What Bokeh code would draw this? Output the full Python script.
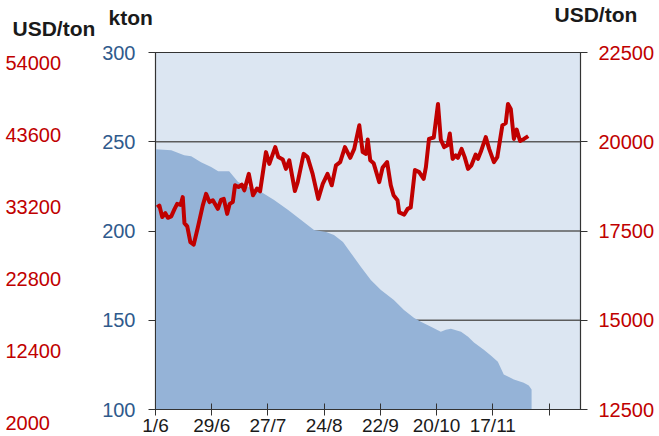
from bokeh.plotting import figure
from bokeh.models import Range1d, LinearAxis, FixedTicker, Label
from bokeh.embed import file_html
from bokeh.resources import INLINE

# ---------------- data ----------------
# x = trading-day index from 1/6
x_tick_pos = [0, 20, 40, 60, 80, 100, 120, 140]
x_tick_labels = ["1/6", "29/6", "27/7", "24/8", "22/9", "20/10", "17/11", ""]
x_end = 151.2                      # day index at the right border

kton_ticks = [100, 150, 200, 250, 300]
price_ticks = [12500, 15000, 17500, 20000, 22500]
usd_left_ticks = [2000, 12400, 22800, 33200, 43600, 54000]

stock_x = [0, 5.6, 10.2, 12.7, 16.2, 19.8, 22.3, 26.2, 29.4, 34.0,
           37.6, 42.2, 47.2, 51.8, 56.4, 60.7, 63.5, 66.7, 69.5, 73.1,
           76.6, 80.2, 84.8, 88.4, 91.9, 94.4, 98.0, 101.5, 103.3, 105.1,
           108.7, 111.2, 113.3, 116.8, 119.3, 121.8, 123.9, 127.5, 131.0, 132.8,
           133.8]
stock_kton = [245.8, 245.3, 242.5, 241.9, 238.5, 235.8, 233.5, 233.5, 227.4, 224.0,
              221.8, 217.3, 211.7, 206.1, 200.6, 199.4, 197.8, 193.9, 187.7, 179.9,
              172.6, 167.0, 161.4, 155.8, 151.4, 149.2, 146.4, 143.6, 144.7, 145.3,
              143.6, 140.8, 137.5, 133.5, 130.2, 126.8, 119.6, 116.8, 115.0, 113.4,
              111.2]

price_x = [0.6, 1.4, 2.4, 3.5, 4.4, 5.6, 6.8, 7.7, 8.9, 9.7,
           10.3, 11.3, 12.4, 13.6, 15.1, 16.8, 18.0, 19.2, 20.4, 22.2,
           23.3, 24.3, 25.5, 26.4, 27.5, 28.3, 29.5, 30.7, 31.6, 33.2,
           34.7, 36.1, 37.2, 39.3, 40.5, 42.6, 43.7, 45.3, 46.4, 47.6,
           49.6, 50.6, 52.7, 54.1, 55.9, 57.9, 59.5, 61.2, 62.7, 64.2,
           65.7, 67.4, 69.3, 70.7, 72.5, 73.7, 74.9, 75.5, 76.4, 77.6,
           79.6, 80.8, 82.4, 83.7, 84.7, 86.1, 86.7, 88.5, 89.7, 90.8,
           92.3, 93.8, 95.4, 96.2, 97.3, 99.0, 100.5, 101.5, 102.7, 103.9,
           104.7, 105.7, 106.8, 107.6, 108.9, 110.0, 111.2, 112.4, 113.9, 114.7,
           115.7, 117.5, 118.7, 120.4, 121.6, 123.4, 124.6, 125.4, 126.4, 127.5,
           128.5, 129.7, 131.1, 132.6]
price_usd = [18160, 18210, 17890, 18000, 17870, 17910, 18120, 18260, 18230, 18450,
             17720, 17630, 17190, 17120, 17610, 18210, 18540, 18310, 18360, 18120,
             18370, 18400, 17980, 18260, 18310, 18780, 18730, 18800, 18640, 19100,
             18500, 18690, 18610, 19710, 19380, 19850, 19570, 19500, 19240, 19480,
             18620, 18870, 19660, 19570, 19100, 18400, 18820, 19100, 18780, 19340,
             19430, 19850, 19550, 19800, 20460, 19710, 19660, 20060, 19480, 19400,
             18870, 19280, 19430, 18780, 18500, 18360, 18020, 17960, 18120, 18160,
             19210, 19150, 18960, 19290, 20080, 20120, 21060, 20060, 19850, 19900,
             20230, 19520, 19620, 19550, 19800, 19570, 19240, 19340, 19640, 19520,
             19710, 20130, 19800, 19430, 19570, 20460, 20520, 21060, 20920, 20080,
             20340, 20020, 20080, 20160]

# ---------------- style / layout ----------------
FONT = "Liberation Sans"
RED = "#C00000"
BLUE = "#2F5A8C"
DARK = "#333333"
TXT = "#1a1a1a"
LBL = "20px"

W, H = 659, 436
PL, PR, PT, PB = 155, 580, 52, 409        # plot-area edges in px
UL_TOP, UL_BOT = 62, 422                  # px of outer USD/ton labels 54000 / 2000

# the frame is the whole canvas; scales are set so that the plot area lands at PL..PR / PT..PB
kx = (PR - PL) / (x_end - x_tick_pos[0])
ky = (PB - PT) / (kton_ticks[-1] - kton_ticks[0])
kp = (PB - PT) / (price_ticks[-1] - price_ticks[0])
ku = (UL_BOT - UL_TOP) / (usd_left_ticks[-1] - usd_left_ticks[0])

p = figure(width=W, height=H, output_backend="svg", toolbar_location=None, title=None,
           x_range=Range1d(x_tick_pos[0] - PL / kx, x_end + (W - PR) / kx),
           y_range=Range1d(kton_ticks[0] - (H - PB) / ky, kton_ticks[-1] + PT / ky),
           min_border=0, min_border_left=0, min_border_right=0,
           min_border_top=0, min_border_bottom=0)
p.extra_y_ranges = {
    "price": Range1d(price_ticks[0] - (H - PB) / kp, price_ticks[-1] + PT / kp),
    "usd_left": Range1d(usd_left_ticks[0] - (H - UL_BOT) / ku,
                        usd_left_ticks[-1] + UL_TOP / ku),
}
p.outline_line_color = None
p.background_fill_color = "white"
p.border_fill_color = "white"
p.xgrid.visible = False
p.ygrid.visible = False

# plot area, grid lines, stock area, price line
p.quad(left=x_tick_pos[0], right=x_end, bottom=kton_ticks[0], top=kton_ticks[-1],
       fill_color="#DCE6F2", line_color=DARK, line_width=1.2)
p.segment(x0=x_tick_pos[0], x1=x_end, y0=kton_ticks[1:-1], y1=kton_ticks[1:-1],
          line_color="#5c5c5c", line_width=1.5)
p.varea(x=stock_x, y1=[kton_ticks[0]] * len(stock_x), y2=stock_kton, fill_color="#95B3D7")
p.line(x=price_x, y=price_usd, y_range_name="price", line_color=RED, line_width=4,
       line_join="round")

# bottom axis
xa = p.xaxis[0]
xa.fixed_location = kton_ticks[0]
xa.bounds = (x_tick_pos[0], x_end)
xa.ticker = FixedTicker(ticks=x_tick_pos)
xa.major_label_overrides = {t: l for t, l in zip(x_tick_pos, x_tick_labels)}
xa.major_tick_in = 6
xa.major_tick_out = 6
xa.minor_tick_line_color = None
xa.axis_line_color = DARK
xa.major_tick_line_color = DARK
xa.major_label_standoff = -1
xa.major_label_text_font = FONT
xa.major_label_text_font_size = "19px"
xa.major_label_text_color = TXT

# left axis (kton)
ya = p.yaxis[0]
ya.fixed_location = x_tick_pos[0]
ya.bounds = (kton_ticks[0], kton_ticks[-1])
ya.ticker = FixedTicker(ticks=kton_ticks)
ya.major_tick_in = 0
ya.major_tick_out = 7
ya.minor_tick_line_color = None
ya.axis_line_color = DARK
ya.major_tick_line_color = DARK
ya.major_label_standoff = 13
ya.major_label_text_font = FONT
ya.major_label_text_font_size = LBL
ya.major_label_text_color = BLUE

# right axis (USD/ton, price)
ra = LinearAxis(y_range_name="price", ticker=FixedTicker(ticks=price_ticks),
                fixed_location=x_end, bounds=(price_ticks[0], price_ticks[-1]))
ra.major_tick_in = 0
ra.major_tick_out = 7
ra.minor_tick_line_color = None
ra.axis_line_color = DARK
ra.major_tick_line_color = DARK
ra.major_label_standoff = 11
ra.major_label_text_font = FONT
ra.major_label_text_font_size = LBL
ra.major_label_text_color = RED
p.add_layout(ra, "right")

# outer left scale (USD/ton), left-aligned numbers at the far left
oa = LinearAxis(y_range_name="usd_left", ticker=FixedTicker(ticks=usd_left_ticks),
                fixed_location=x_tick_pos[0] - (PL - 5) / kx)
oa.axis_line_color = None
oa.major_tick_line_color = None
oa.minor_tick_line_color = None
oa.major_tick_in = 0
oa.major_tick_out = 0
oa.major_label_standoff = 0
oa.major_label_text_font = FONT
oa.major_label_text_font_size = LBL
oa.major_label_text_color = RED
p.add_layout(oa, "right")

def title(txt, left_px, baseline_px):
    p.add_layout(Label(x=left_px, y=H - baseline_px, x_units="screen", y_units="screen",
                       text=txt, text_font=FONT, text_font_size="21px", text_font_style="bold",
                       text_color=TXT, text_baseline="alphabetic", text_align="left"))

title("USD/ton", 12, 28)
title("kton", 108, 17)
title("USD/ton", 554, 14)

open("out.html", "w").write(file_html(p, INLINE))
